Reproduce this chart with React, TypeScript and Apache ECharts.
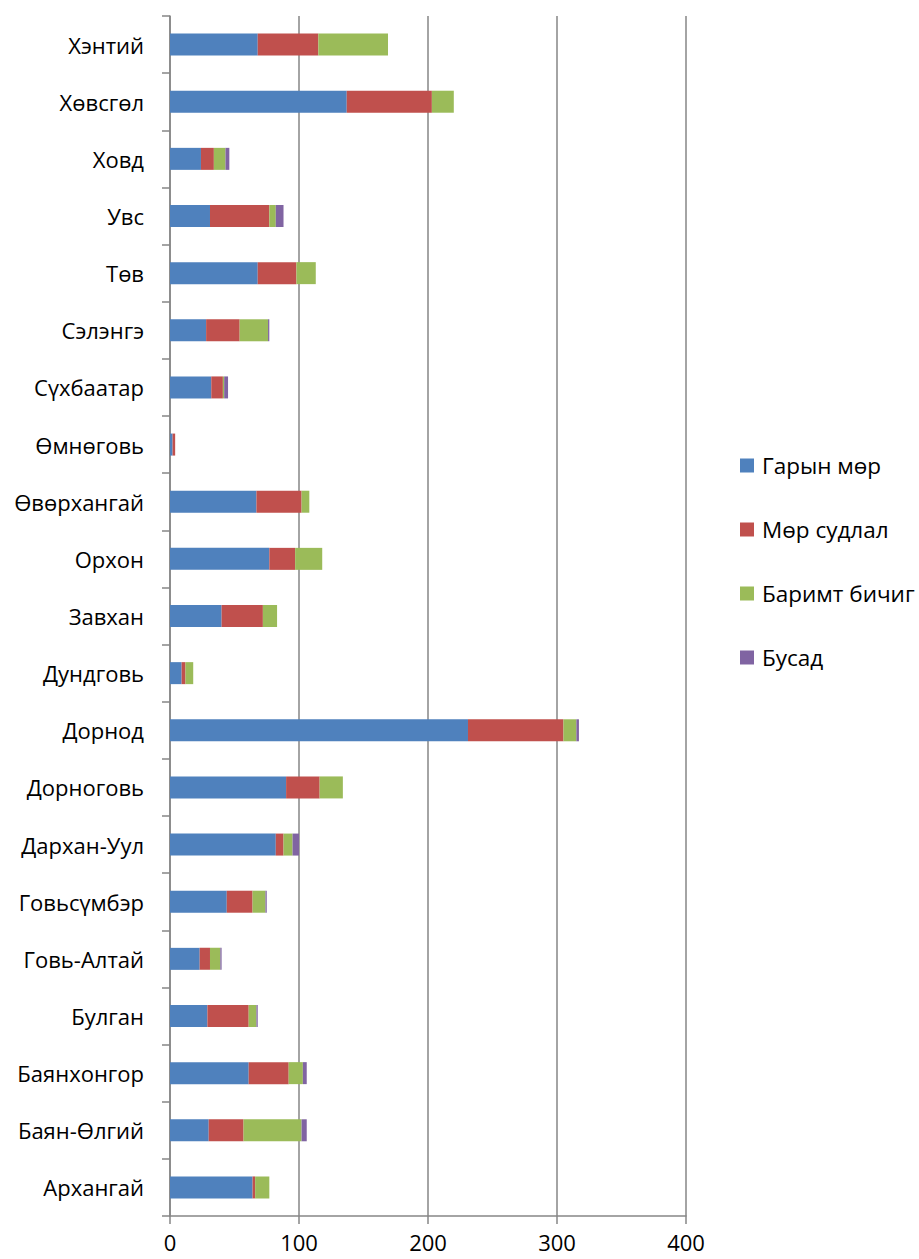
import React, { useEffect, useRef } from "react";
import * as echarts from "echarts";

const categories = [
  "Архангай", "Баян-Өлгий", "Баянхонгор", "Булган", "Говь-Алтай", "Говьсүмбэр",
  "Дархан-Уул", "Дорноговь", "Дорнод", "Дундговь", "Завхан", "Орхон",
  "Өвөрхангай", "Өмнөговь", "Сүхбаатар", "Сэлэнгэ", "Төв", "Увс", "Ховд",
  "Хөвсгөл", "Хэнтий",
];
const garynMor = [64, 30, 61, 29, 23, 44, 82, 90, 231, 9, 40, 77, 67, 2, 32, 28, 68, 31, 24, 137, 68];
const morSudlal = [2, 27, 31, 32, 8, 20, 6, 26, 74, 3, 32, 20, 35, 2, 9, 26, 30, 46, 10, 66, 47];
const barimtBichig = [11, 45, 11, 6, 8, 10, 7, 18, 10, 6, 11, 21, 6, 0, 1, 22, 15, 5, 9, 17, 54];
const busad = [0, 4, 3, 1, 1, 1, 5, 0, 2, 0, 0, 0, 0, 0, 3, 1, 0, 6, 3, 0, 0];
const seriesNames = ["Гарын мөр", "Мөр судлал", "Баримт бичиг", "Бусад"];
const xTicks = [0, 100, 200, 300, 400];

const colors = ["#4F81BD", "#C0504D", "#9BBB59", "#8064A2"];
const font = "'Open Sans', 'Liberation Sans', sans-serif";

export default function App() {
  const ref = useRef<HTMLDivElement>(null);
  useEffect(() => {
    if (!ref.current) return;
    const chart = echarts.init(ref.current, null, { renderer: "svg" });
    const data = [garynMor, morSudlal, barimtBichig, busad];
    chart.setOption({
      animation: false,
      color: colors,
      grid: { left: 170, right: 233, top: 16, bottom: 43, containLabel: false },
      legend: {
        orient: "vertical",
        left: 735,
        top: 449,
        itemWidth: 14,
        itemHeight: 14,
        itemGap: 41,
        icon: "rect",
        textStyle: { fontSize: 22.5, color: "#000", fontFamily: font, padding: [0, 0, 0, 3] },
        data: seriesNames,
      },
      xAxis: {
        type: "value",
        min: xTicks[0],
        max: xTicks[xTicks.length - 1],
        interval: 100,
        axisLine: { show: true, lineStyle: { color: "#868686", width: 1.5 } },
        axisTick: { show: true, length: 8, lineStyle: { color: "#868686", width: 1.5 } },
        splitLine: { show: true, lineStyle: { color: "#868686", width: 1.5 } },
        axisLabel: { fontSize: 22, color: "#000", fontFamily: font, margin: 15 },
      },
      yAxis: {
        type: "category",
        data: categories,
        axisLine: { show: true, lineStyle: { color: "#868686", width: 1.5 } },
        axisTick: { show: true, length: 8, lineStyle: { color: "#868686", width: 1.5 } },
        splitLine: { show: false },
        axisLabel: { fontSize: 22, color: "#000", fontFamily: font, margin: 26 },
      },
      series: seriesNames.map((name, i) => ({
        name,
        type: "bar",
        stack: "total",
        barWidth: 22,
        data: data[i],
        itemStyle: { color: colors[i] },
      })),
    });
    return () => chart.dispose();
  }, []);
  return (
    <div
      ref={ref}
      style={{ position: "fixed", left: 0, top: 0, width: 919, height: 1259, background: "#fff" }}
    />
  );
}
